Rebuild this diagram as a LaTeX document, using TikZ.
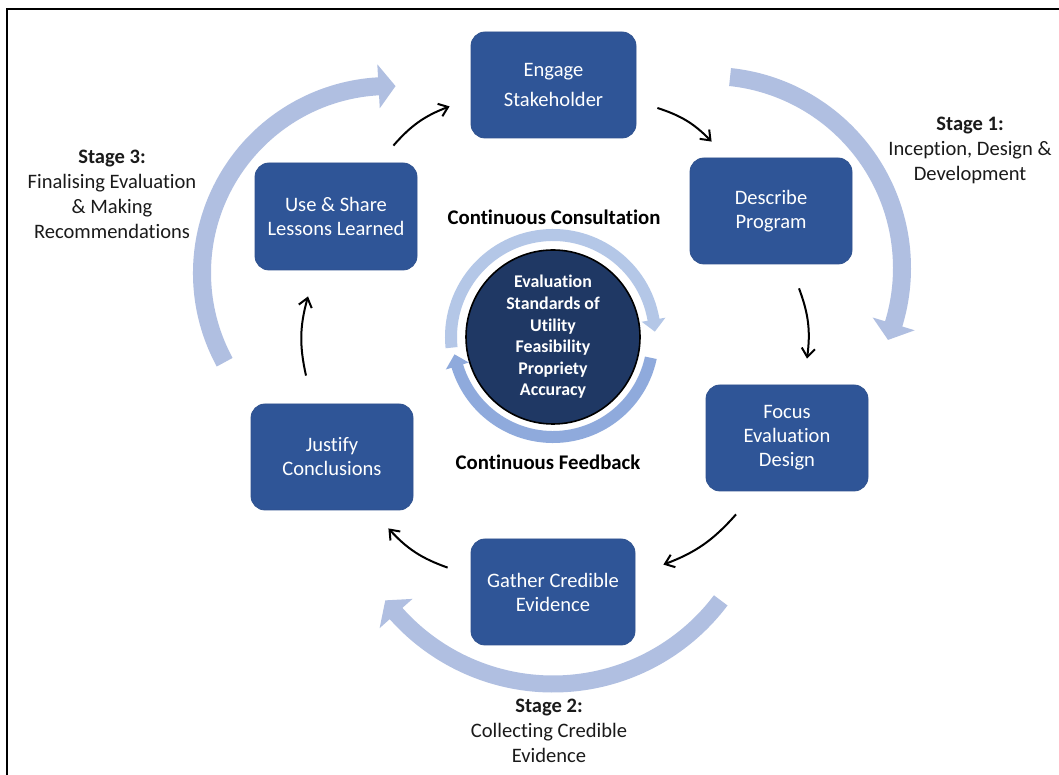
\documentclass[tikz,border=0pt]{standalone}
\usepackage{fontspec}
\setmainfont{Carlito}[Ligatures=NoCommon]
\usetikzlibrary{arrows.meta,calc}
\definecolor{boxblue}{HTML}{2F5597}
\definecolor{boxedge}{HTML}{2F528F}
\definecolor{navy}{HTML}{1F3864}
\definecolor{bigarc}{HTML}{B0BFE1}
\definecolor{ringlight}{HTML}{B4C7E7}
\definecolor{ringdark}{HTML}{8FAADC}
\definecolor{txt}{HTML}{1A1A1A}
\newcommand{\bandarrow}[9]{%
  \pgfmathsetmacro{\baS}{#5+#8/#3*57.2958}%
  \pgfmathsetmacro{\baRo}{#3+#6}%
  \pgfmathsetmacro{\baRi}{#3-#6}%
  \pgfmathsetmacro{\baHo}{#3+#7}%
  \pgfmathsetmacro{\baHi}{#3-#7}%
  \fill[#9,shift={(#1,#2)}] (#4:\baRo) arc[start angle=#4,end angle=\baS,radius=\baRo]
    -- (\baS:\baHo) -- (#5:#3) -- (\baS:\baHi) -- (\baS:\baRi)
    arc[start angle=\baS,end angle=#4,radius=\baRi] -- cycle;}
\begin{document}
\begin{tikzpicture}[x=0.75pt,y=0.75pt,
  stepbox/.style={rectangle,rounded corners=10.5pt,fill=boxblue,draw=boxedge,line width=0.6pt,
    text=white,align=center,font=\fontsize{15.4}{18}\selectfont,inner sep=0pt},
  stagetxt/.style={align=center,text=txt,font=\fontsize{15.4}{18.75}\selectfont,inner sep=0pt},
  conttxt/.style={text=black,font=\bfseries\fontsize{15.6}{18}\selectfont,inner sep=0pt},
  flow/.style={line width=1.5pt,black,-{Straight Barb[length=6.5pt,width=10pt,line width=1.5pt]},bend left=14}]
\useasboundingbox (0,0) rectangle (1059,774);
\fill[white] (0,0) rectangle (1059,774);
\draw[line width=1.6pt,black] (7,-5) -- (7,765) -- (1065,765);

% big stage arcs
\bandarrow{710}{506}{192}{84}{-22}{9}{22}{17}{bigarc}
\bandarrow{553}{300}{210}{-37}{-143}{8.5}{22}{17}{bigarc}
\bandarrow{389}{501}{187}{208.5}{88}{9}{22}{17}{bigarc}

% inner ring arrows
\bandarrow{553}{437}{102}{186}{3}{6}{12}{12}{ringlight}
\bandarrow{553}{437}{100}{-12}{-170}{6}{12}{12}{ringdark}

% center circle
\node[circle,minimum size={174*0.75pt},fill=navy,draw=black,line width=1.2pt,text=white,align=center,
  font=\bfseries\fontsize{13.4}{16.2}\selectfont,inner sep=0pt] (std) at (553,437)
  {Evaluation\\Standards of\\Utility\\Feasibility\\Propriety\\Accuracy};

% boxes
\node[stepbox,minimum width={165*0.75pt},minimum height={106*0.75pt}] (eng) at (553.5,689) {Engage\\[5pt]Stakeholder};
\node[stepbox,minimum width={162*0.75pt},minimum height={106*0.75pt}] (des) at (771,563) {Describe\\Program};
\node[stepbox,minimum width={162*0.75pt},minimum height={106*0.75pt}] (foc) at (787,336) {Focus\\Evaluation\\Design};
\node[stepbox,minimum width={164*0.75pt},minimum height={106*0.75pt}] (gat) at (553,182) {Gather Credible\\Evidence};
\node[stepbox,minimum width={162*0.75pt},minimum height={107*0.75pt}] (use) at (336,557.5) {Use \& Share\\Lessons Learned};
\node[stepbox,minimum width={162*0.75pt},minimum height={106*0.75pt}] (jus) at (332,317) {Justify\\Conclusions};

% labels
\node[stagetxt] (s1) at (970,624) {\textbf{Stage 1:}\\Inception, Design \&\\Development};
\node[stagetxt] (s2) at (549,43) {\textbf{Stage 2:}\\Collecting Credible\\Evidence};
\node[stagetxt] (s3) at (112,579.5) {\textbf{Stage 3:}\\Finalising Evaluation\\\& Making\\Recommendations};
\node[conttxt] (cc) at (554,557) {Continuous Consultation};
\node[conttxt] (cf) at (548,312) {Continuous Feedback};

% flow connectors
\coordinate (a1s) at ($(use.north east)+(-24,17)$);
\coordinate (a1e) at ($(eng.south west)+(-21,32)$);
\coordinate (a2s) at ($(eng.east)+(21,-23)$);
\coordinate (a2e) at ($(des.north west)+(22,16)$);
\coordinate (a3s) at ($(des.south)+(28,-24)$);
\coordinate (a3e) at ($(foc.north)+(20,26)$);
\coordinate (a4s) at ($(foc.south)+(-51,-23)$);
\coordinate (a4e) at ($(gat.north east)+(28,-26)$);
\coordinate (a5s) at ($(gat.north west)+(-23,-29)$);
\coordinate (a5e) at ($(jus.south east)+(-25,-18)$);
\coordinate (a6s) at ($(jus.north)+(-26,28)$);
\coordinate (a6e) at ($(use.south)+(-28,-26)$);
\draw[flow] (a1s) to (a1e);
\draw[flow] (a2s) to (a2e);
\draw[flow] (a3s) to (a3e);
\draw[flow] (a4s) to (a4e);
\draw[flow] (a5s) to (a5e);
\draw[flow] (a6s) to (a6e);
\end{tikzpicture}
\end{document}
